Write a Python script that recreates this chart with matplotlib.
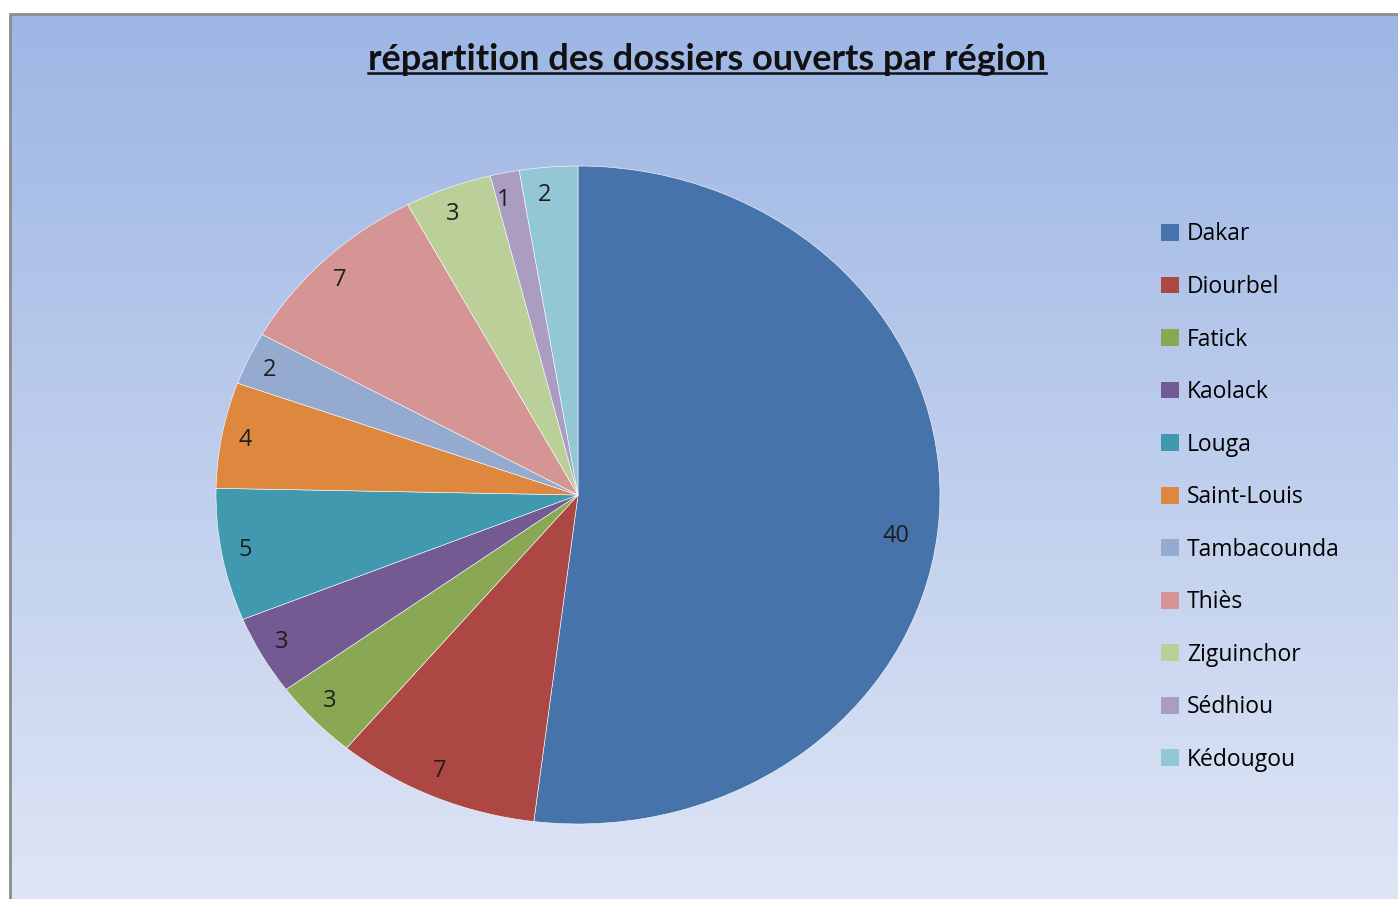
import numpy as np
import matplotlib.pyplot as plt
from matplotlib.patches import Rectangle, Patch
from matplotlib.lines import Line2D

regions = ["Dakar", "Diourbel", "Fatick", "Kaolack", "Louga", "Saint-Louis",
           "Tambacounda", "Thiès", "Ziguinchor", "Sédhiou", "Kédougou"]
dossiers = [40, 7, 3, 3, 5, 4, 2, 7, 3, 1, 2]
colors = ["#4674AA", "#AC4743", "#8AA853", "#735A92", "#4199AF", "#DE873E",
          "#95AACF", "#D49594", "#BBD099", "#AB9DC2", "#94C7D5"]
title = "répartition des dossiers ouverts par région"

W, H = 1398, 899
fig = plt.figure(figsize=(W / 100, H / 100), dpi=100)
fig.patch.set_facecolor("white")
plt.rcParams["font.family"] = ["Lato", "DejaVu Sans"]

# gradient background inside the chart frame
bg = fig.add_axes([10 / W, 0, 1 - 10 / W, 1 - 14 / H])
top = np.array([157, 182, 228]) / 255
bot = np.array([222, 229, 245]) / 255
t = np.linspace(0, 1, 256)[:, None]
grad = top * (1 - t) + bot * t
bg.imshow(grad[:, None, :].repeat(2, axis=1), aspect="auto", extent=[0, 1, 0, 1])
bg.set_axis_off()
fig.add_artist(Rectangle((10 / W, -0.01), 1.02, 1 - 14 / H + 0.01,
                         transform=fig.transFigure, fill=False,
                         edgecolor="#8C8C8C", linewidth=2))

# pie drawn in an axes stretched so it comes out slightly oval
cx, cy, rx, ry = 578, 495, 362, 329
ax = fig.add_axes([(cx - rx) / W, (H - cy - ry) / H, 2 * rx / W, 2 * ry / H])
wedges, texts = ax.pie(dossiers, colors=colors, startangle=90, counterclock=False,
                       labels=[str(v) for v in dossiers], labeldistance=0.915,
                       wedgeprops=dict(edgecolor="white", linewidth=0.4),
                       textprops=dict(fontsize=17, color="#1E1E1E",
                                      family=["Open Sans", "DejaVu Sans"]))
ax.set_aspect("auto")
ax.set_xlim(-1, 1)
ax.set_ylim(-1, 1)

# the big slice carries its label a bit further in and lower
w0 = wedges[0]
ang = np.deg2rad((w0.theta1 + w0.theta2) / 2 - 5)
texts[0].set_position((0.85 * np.cos(ang), 0.85 * np.sin(ang)))

handles = [Patch(facecolor=c, edgecolor="none") for c in colors]
fig.legend(handles, regions, loc="upper left", bbox_to_anchor=(1150 / W, 1 - 211 / H),
           frameon=False, handlelength=0.75, handleheight=0.75,
           handletextpad=0.35, labelspacing=1.245, borderpad=0,
           prop=dict(family=["Open Sans", "DejaVu Sans"], size=16.5))

# underlined bold title
tt = fig.text(707 / W, 1 - 59 / H, title, ha="center", va="center",
              fontsize=26, fontweight="bold", color="#111111")
fig.canvas.draw()
bb = tt.get_window_extent().transformed(fig.transFigure.inverted())
fig.add_artist(Line2D([bb.x0, bb.x1], [bb.y0 + 0.003, bb.y0 + 0.003],
                      transform=fig.transFigure, color="#111111", linewidth=1.8))

fig.savefig("out.png", dpi=100)
